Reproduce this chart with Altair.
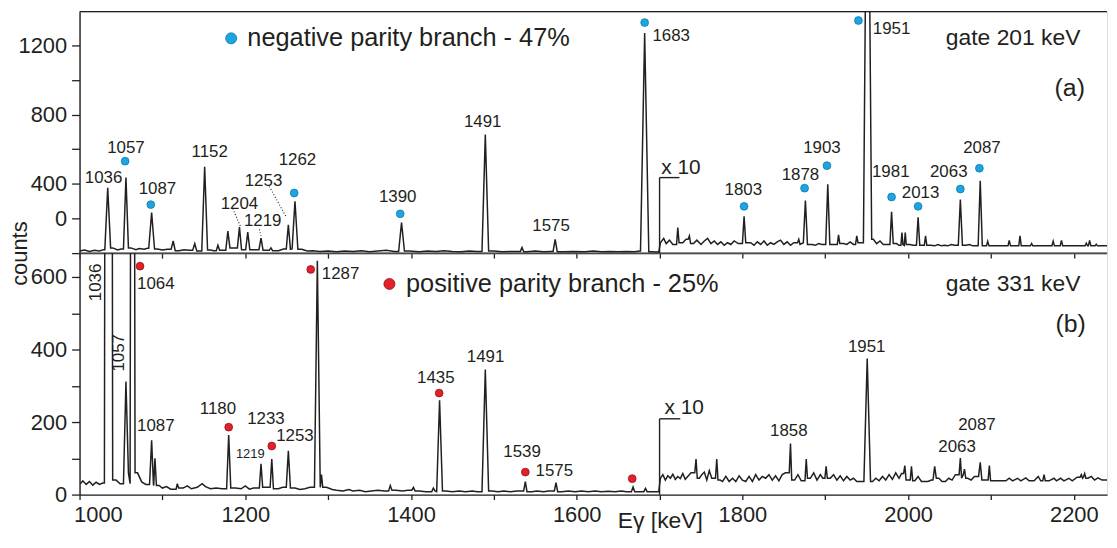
import altair as alt
import pandas as pd

# ---------------- axis ranges ----------------
E_MIN, E_MAX = 1000, 2240
A_MAX, B_MAX = 1394, 666
W, H = 1034, 243
FONT = "Liberation Sans"
INK = "#231f20"
BLUE, BLUE_EDGE = "#1ba6e1", "#0e6f9c"
RED, RED_EDGE = "#e5202a", "#7d1016"

# ---------------- panel (a): gate 201 keV ----------------
# background vertices (energy keV, counts)
A_BG_LOW = [(1000, 12), (1006, 18), (1012, 10), (1018, 16), (1024, 12), (1029, 20), (1040, 30),
            (1046, 18), (1050, 24), (1062, 30), (1068, 20), (1072, 26), (1078, 22), (1082, 28),
            (1094, 24), (1100, 18), (1106, 22), (1120, 14), (1126, 20), (1132, 16), (1146, 12),
            (1158, 18), (1162, 14), (1172, 16), (1186, 30), (1198, 20), (1210, 20), (1226, 16),
            (1240, 14), (1246, 24), (1268, 22), (1275, 12), (1282, 14), (1290, 10), (1300, 12),
            (1310, 8), (1320, 12), (1330, 10), (1340, 14), (1350, 8), (1360, 12), (1370, 16),
            (1380, 10), (1398, 12), (1410, 8), (1420, 12), (1430, 10), (1440, 14), (1450, 10),
            (1460, 8), (1470, 12), (1480, 10), (1500, 12), (1510, 8), (1520, 10), (1528, 10),
            (1540, 8), (1550, 12), (1560, 8), (1568, 10), (1585, 8), (1595, 10), (1610, 8),
            (1620, 12), (1630, 8), (1640, 10), (1650, 8), (1660, 10), (1670, 8), (1676, 12),
            (1690, 8), (1699, 6)]
A_BG_X10 = [(1701, 60), (1705, 85), (1708, 55), (1712, 75), (1716, 50), (1728, 60), (1732, 80),
            (1741, 55), (1745, 75), (1750, 50), (1754, 70), (1758, 85), (1762, 55), (1766, 70),
            (1770, 50), (1774, 65), (1778, 45), (1782, 60), (1786, 50), (1790, 70), (1795, 55),
            (1810, 60), (1814, 45), (1818, 65), (1822, 50), (1826, 70), (1830, 45), (1834, 60),
            (1838, 50), (1842, 65), (1846, 75), (1850, 50), (1854, 65), (1858, 45), (1862, 60),
            (1884, 50), (1888, 45), (1892, 55), (1896, 50), (1909, 50), (1922, 55), (1926, 50),
            (1930, 65), (1934, 50), (1943, 60), (1958, 80), (1962, 55), (1966, 70), (1970, 50),
            (1986, 55), (1989, 45), (2002, 50), (2006, 45), (2027, 45), (2032, 42), (2036, 50),
            (2040, 42), (2044, 45), (2048, 42), (2052, 50), (2056, 45), (2070, 45), (2074, 50),
            (2078, 42), (2102, 42), (2110, 42), (2142, 42), (2158, 42), (2168, 42), (2195, 42),
            (2205, 42), (2232, 42), (2240, 42)]
# peaks (energy keV, top counts, half width keV)
A_PEAKS = [(1034, 377, 3.5), (1056, 436, 3), (1087, 234, 3.5), (1113, 70, 2.5), (1139, 55, 2.5),
           (1151, 499, 3.5), (1167, 45, 2), (1179, 127, 2.5), (1193, 150, 2.5), (1203, 122, 2.5),
           (1219, 86, 2.5), (1231, 30, 2), (1252, 164, 2.5), (1260, 299, 3.5), (1388.6, 177, 3.5),
           (1489.7, 684, 4), (1534, 33, 2), (1574, 80, 2.5), (1682, 1270, 5),
           (1722, 147, 1.5), (1736, 99, 1.5), (1802, 213, 2), (1868, 80, 1.5), (1876, 303, 2.5),
           (1903, 398, 2.5), (1916, 105, 1.5), (1938, 99, 1.5), (1951, 3000, 5), (1980, 238, 2),
           (1992.5, 118, 1.2), (1996.5, 118, 1.2), (2012, 207, 2), (2021, 99, 1.5),
           (2063, 309, 2.5), (2087, 417, 2.5), (2096, 68, 1.5), (2122, 74, 1.5), (2135, 99, 1.5),
           (2149, 55, 1.5), (2175, 69, 1.5), (2185, 74, 1.5), (2215, 57, 1.5), (2219, 74, 1.5),
           (2227, 51, 1.5)]
A_LABELS = [("1036", 1029, 433), ("1057", 1056, 607), ("1087", 1094, 370), ("1152", 1157, 585),
            ("1204", 1193, 286), ("1219", 1221, 185), ("1253", 1222, 417), ("1262", 1263, 537),
            ("1390", 1384, 322), ("1491", 1486.5, 756), ("1575", 1569, 156), ("1683", 1714, 1251),
            ("1803", 1801, 366), ("1878", 1870, 451), ("1903", 1896, 604), ("1951", 1980, 1293),
            ("1981", 1979, 470), ("2013", 2015, 347), ("2063", 2049, 470), ("2087", 2089, 604)]
A_DOTS = [(1055, 531), (1086, 280), (1259, 347), (1387, 227), (1682, 1331), (1802, 270),
          (1875, 375), (1902, 505), (1940, 1343), (1980, 324), (2012, 270), (2063, 370),
          (2086, 490)]
A_LEADERS = [(1185, 257, 1194, 156), (1217, 137, 1219, 99), (1229, 385, 1250, 204)]
A_MARKER = [(1700, 0, 1700, 436), (1700, 436, 1724, 436)]
A_LEGEND = ("negative parity branch - 47%", 1183, 1202.5, 1240)
A_GATE = ("gate 201 keV", 2208, 1240)
A_TAG = ("(a)", 2195, 954)
A_X10 = ("x 10", 1702, 491)

# ---------------- panel (b): gate 331 keV ----------------
B_BG_LOW = [(1001, 30), (1004, 38), (1008, 28), (1012, 36), (1016, 26), (1020, 34), (1024, 28),
            (1028, 32), (1044, 40), (1049, 30), (1070, 60), (1075, 35), (1080, 28), (1096, 25),
            (1100, 18), (1105, 22), (1110, 15), (1125, 18), (1130, 24), (1135, 16), (1142, 20),
            (1148, 30), (1152, 22), (1158, 16), (1165, 18), (1172, 16), (1188, 18), (1195, 16),
            (1200, 24), (1205, 15), (1210, 18), (1226, 20), (1240, 16), (1245, 20), (1260, 18),
            (1266, 14), (1272, 16), (1278, 20), (1298, 20), (1305, 14), (1310, 12), (1318, 10),
            (1325, 14), (1330, 10), (1338, 12), (1345, 8), (1352, 10), (1360, 12), (1368, 10),
            (1382, 12), (1390, 10), (1396, 12), (1410, 10), (1418, 8), (1442, 10), (1450, 8),
            (1458, 10), (1466, 8), (1474, 10), (1480, 8), (1498, 10), (1505, 8), (1512, 10),
            (1520, 8), (1528, 10), (1546, 8), (1552, 10), (1560, 8), (1566, 10), (1582, 8),
            (1590, 10), (1598, 8), (1606, 10), (1614, 8), (1622, 10), (1630, 8), (1638, 9),
            (1646, 8), (1654, 10), (1660, 8), (1675, 8), (1690, 8), (1699, 8)]
B_BG_X10 = [(1701, 45), (1704, 55), (1707, 40), (1710, 52), (1713, 45), (1716, 56), (1719, 42),
            (1722, 50), (1725, 44), (1728, 58), (1731, 42), (1734, 50), (1738, 60), (1748, 45),
            (1751, 55), (1754, 62), (1757, 40), (1760, 66), (1763, 45), (1773, 40), (1776, 36),
            (1780, 50), (1784, 36), (1788, 45), (1792, 36), (1796, 52), (1800, 40), (1804, 36),
            (1808, 50), (1812, 36), (1816, 55), (1820, 40), (1824, 50), (1828, 45), (1832, 55),
            (1836, 40), (1840, 52), (1844, 38), (1848, 55), (1852, 60), (1863, 40), (1867, 55),
            (1871, 38), (1882, 45), (1886, 60), (1890, 40), (1894, 55), (1897, 45), (1906, 45),
            (1910, 55), (1914, 40), (1918, 52), (1922, 38), (1926, 50), (1930, 40), (1934, 45),
            (1938, 36), (1957, 36), (1961, 45), (1965, 38), (1969, 50), (1973, 40), (1977, 55),
            (1981, 42), (1985, 60), (1989, 45), (1992, 58), (2000, 40), (2008, 38), (2012, 50),
            (2016, 36), (2020, 36), (2024, 36), (2028, 40), (2037, 45), (2041, 36), (2045, 36),
            (2049, 45), (2053, 40), (2057, 55), (2072, 45), (2076, 40), (2080, 50), (2092, 40),
            (2103, 38), (2110, 38), (2118, 38), (2122, 45), (2126, 38), (2132, 45), (2136, 38),
            (2142, 46), (2146, 38), (2152, 38), (2157, 50), (2160, 38), (2170, 38), (2176, 45),
            (2179, 38), (2184, 45), (2188, 38), (2194, 45), (2198, 38), (2204, 48), (2217, 45),
            (2221, 50), (2225, 40), (2229, 46), (2234, 40), (2240, 40)]
B_PEAKS = [(1035, 8000, 5), (1056, 312, 3), (1064, 4000, 3), (1087, 150, 2.5), (1091, 100, 1.8),
           (1118, 30, 1.5), (1180, 164, 2.5), (1219, 85, 2), (1232, 98, 2), (1252, 121, 2.5),
           (1287, 645, 3.5), (1292, 55, 1.5), (1375, 25, 2), (1403, 20, 2), (1427, 18, 2),
           (1434.5, 260, 3.5), (1489.7, 345, 4), (1538, 36, 2), (1575, 33, 2), (1668, 21, 2),
           (1683, 17, 2),
           (1744, 98, 1.5), (1769, 98, 1.5), (1858, 141, 1.5), (1877, 98, 1.5), (1901, 78, 1.5),
           (1950.6, 375, 4), (1996, 80, 1.5), (2004, 78, 1.5), (2032, 78, 2), (2063, 101, 1.5),
           (2068, 70, 1.5), (2087, 89, 2), (2098, 80, 1.5), (2164, 55, 1.5), (2209, 55, 1.5),
           (2213, 58, 1.5)]
B_LABELS = [("1064", 1092, 580), ("1087", 1092, 189), ("1180", 1167, 235), ("1233", 1225, 208),
            ("1253", 1260, 162), ("1287", 1315, 609), ("1435", 1430, 321), ("1491", 1490, 380),
            ("1539", 1534, 116), ("1575", 1573, 66), ("1858", 1856, 175), ("1951", 1950, 407),
            ("2063", 2059, 132), ("2087", 2083, 192)]
B_SMALL_LABELS = [("1219", 1206, 113)]
B_ROT_LABELS = [("1036", 1020, 585), ("1057", 1048, 391)]
B_DOTS = [(1073, 630), (1180, 186), (1232, 134), (1279, 621), (1434, 280), (1538, 62), (1667, 44)]
B_MARKER = [(1700, 0, 1700, 209), (1700, 209, 1725, 209)]
B_LEGEND = ("positive parity branch - 25%", 1374, 1394, 581)
B_GATE = ("gate 331 keV", 2208, 580)
B_TAG = ("(b)", 2196, 471)
B_X10 = ("x 10", 1706, 239)

X_TICKS = list(range(1000, 2201, 100))


def spectrum(bg, peaks):
    pts = [(e, c) for e, c in bg if not any(abs(e - p) <= w for p, _, w in peaks)]
    for p, h, w in peaks:
        left = [c for e, c in bg if e < p - w]
        right = [c for e, c in bg if e > p + w]
        lf = left[-1] if left else right[0]
        rf = right[0] if right else left[-1]
        pts += [(p - w, lf), (p, h), (p + w, rf)]
    pts.sort()
    return pd.DataFrame(pts, columns=["E", "c"])


XS = alt.Scale(domain=[E_MIN, E_MAX], nice=False, zero=False)
axis_common = dict(grid=False, domainColor=INK, tickColor=INK, domainWidth=1.4, tickWidth=1.3,
                   labelFont=FONT, labelFontSize=22, labelColor=INK, titleFont=FONT,
                   titleColor=INK, titleFontWeight="normal", labelOverlap=False)

AX_XA = alt.Axis(values=X_TICKS, labels=False, title=None, tickSize=5, **axis_common)
AY_A = alt.Axis(values=list(range(0, 1201, 200)), format="d",
                labelExpr="datum.value == 200 ? '0' : ((datum.value % 400 == 0 && datum.value > 0) ? datum.label : '')",
                title="counts", titleX=-53, titleY=H, titleAngle=270, titleAlign="center",
                titleBaseline="alphabetic", titleFontSize=22, tickSize=8, labelPadding=5,
                **axis_common)
AX_XB = alt.Axis(values=X_TICKS, format="d",
                 labelExpr="datum.value % 200 == 0 ? datum.label : ''",
                 labelFlush=True, labelFlushOffset=6, labelPadding=5, tickSize=5,
                 title="Eγ [keV]", titleX=584, titleY=33, titleAlign="center",
                 titleBaseline="alphabetic", titleFontSize=23, **axis_common)
AY_B = alt.Axis(values=list(range(0, 601, 100)), format="d",
                labelExpr="datum.value % 200 == 0 ? datum.label : ''",
                title=None, tickSize=8, labelPadding=5, **axis_common)


def panel(ymax, ax_x, ax_y, bg, peaks, labels, dots, dot_fill, dot_edge, marker, legend,
          gate, tag, x10, leaders=None, small_labels=None, rot_labels=None):
    ys = alt.Scale(domain=[0, ymax], nice=False, zero=True)

    def X(f="E"):
        return alt.X(f"{f}:Q", scale=XS, axis=ax_x)

    def Y(f="c"):
        return alt.Y(f"{f}:Q", scale=ys, axis=ax_y)

    layers = []
    top = pd.DataFrame({"c": [ymax]})
    layers.append(alt.Chart(top).mark_rule(color=INK, strokeWidth=1.4).encode(y=Y()))
    layers.append(alt.Chart(spectrum(bg, peaks)).mark_line(
        color=INK, strokeWidth=1.5, clip=True).encode(x=X(), y=Y()))
    mk = pd.DataFrame(marker, columns=["E", "c", "E2", "c2"])
    layers.append(alt.Chart(mk).mark_rule(color=INK, strokeWidth=1.4).encode(
        x=X(), y=Y(), x2="E2:Q", y2="c2:Q"))
    if leaders:
        ld = pd.DataFrame(leaders, columns=["E", "c", "E2", "c2"])
        layers.append(alt.Chart(ld).mark_rule(color=INK, strokeWidth=1.1, strokeDash=[1, 2]).encode(
            x=X(), y=Y(), x2="E2:Q", y2="c2:Q"))
    dd = pd.DataFrame(dots, columns=["E", "c"])
    layers.append(alt.Chart(dd).mark_circle(size=62, color=dot_fill, opacity=1, stroke=dot_edge,
                                            strokeWidth=0.7).encode(x=X(), y=Y()))
    lg = pd.DataFrame([{"E": legend[1], "c": legend[3]}])
    layers.append(alt.Chart(lg).mark_circle(size=125, color=dot_fill, opacity=1, stroke=dot_edge,
                                            strokeWidth=0.7).encode(x=X(), y=Y()))
    lt = pd.DataFrame([{"t": legend[0], "E": legend[2], "c": legend[3]}])
    layers.append(alt.Chart(lt).mark_text(font=FONT, fontSize=25.5, color=INK, align="left",
                                          baseline="middle").encode(x=X(), y=Y(), text="t:N"))
    gt = pd.DataFrame([{"t": gate[0], "E": gate[1], "c": gate[2]}])
    layers.append(alt.Chart(gt).mark_text(font=FONT, fontSize=23, color=INK, align="right",
                                          baseline="middle").encode(x=X(), y=Y(), text="t:N"))
    tg = pd.DataFrame([{"t": tag[0], "E": tag[1], "c": tag[2]}])
    layers.append(alt.Chart(tg).mark_text(font=FONT, fontSize=25, color=INK, align="center",
                                          baseline="middle").encode(x=X(), y=Y(), text="t:N"))
    xt = pd.DataFrame([{"t": x10[0], "E": x10[1], "c": x10[2]}])
    layers.append(alt.Chart(xt).mark_text(font=FONT, fontSize=21, color=INK, align="left",
                                          baseline="middle").encode(x=X(), y=Y(), text="t:N"))
    lb = pd.DataFrame(labels, columns=["t", "E", "c"])
    layers.append(alt.Chart(lb).mark_text(font=FONT, fontSize=17, color=INK, align="center",
                                          baseline="middle").encode(x=X(), y=Y(), text="t:N"))
    if small_labels:
        sl = pd.DataFrame(small_labels, columns=["t", "E", "c"])
        layers.append(alt.Chart(sl).mark_text(font=FONT, fontSize=13, color=INK, align="center",
                                              baseline="middle").encode(x=X(), y=Y(), text="t:N"))
    if rot_labels:
        rl = pd.DataFrame(rot_labels, columns=["t", "E", "c"])
        layers.append(alt.Chart(rl).mark_text(font=FONT, fontSize=17, color=INK, align="center",
                                              baseline="middle", angle=270).encode(
            x=X(), y=Y(), text="t:N"))
    return alt.layer(*layers).properties(width=W, height=H)


top_panel = panel(A_MAX, AX_XA, AY_A, A_BG_LOW + A_BG_X10, A_PEAKS, A_LABELS, A_DOTS, BLUE,
                  BLUE_EDGE, A_MARKER, A_LEGEND, A_GATE, A_TAG, A_X10, leaders=A_LEADERS)
bottom_panel = panel(B_MAX, AX_XB, AY_B, B_BG_LOW + B_BG_X10, B_PEAKS, B_LABELS, B_DOTS, RED,
                     RED_EDGE, B_MARKER, B_LEGEND, B_GATE, B_TAG, B_X10,
                     small_labels=B_SMALL_LABELS, rot_labels=B_ROT_LABELS)

chart = alt.vconcat(top_panel, bottom_panel, spacing=0, bounds="flush").properties(
    padding=0
).configure_view(stroke=None).configure(font=FONT, background="white")

chart.save("out.html", embed_options={"renderer": "svg", "actions": False})
